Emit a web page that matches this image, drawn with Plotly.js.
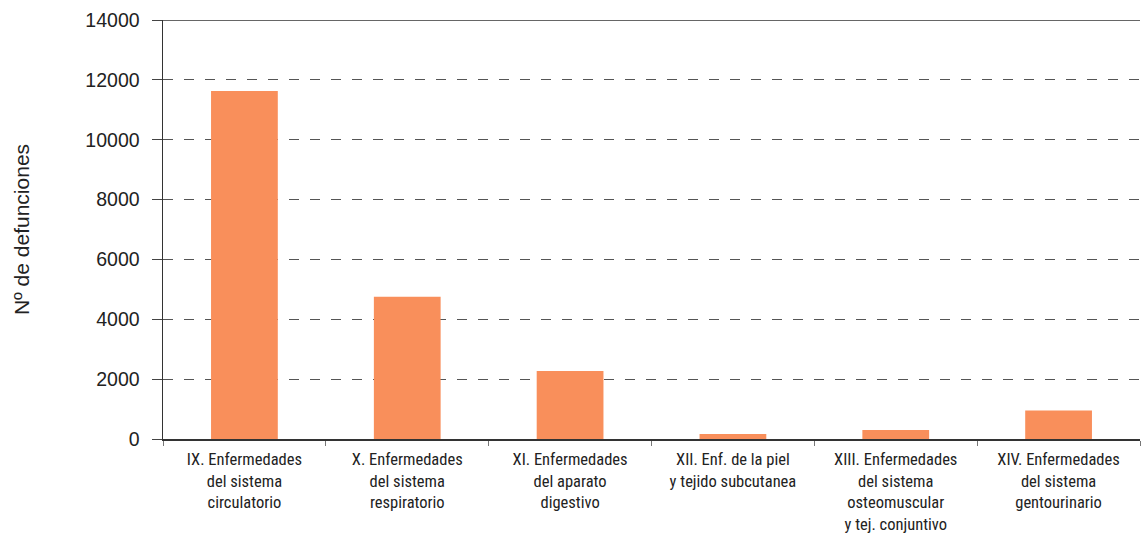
<!DOCTYPE html>
<html>
<head>
<meta charset="utf-8">
<script src="https://cdn.plot.ly/plotly-3.0.1.min.js"></script>
<style>html,body{margin:0;padding:0;background:#fff;}#chart{width:1145px;height:538px;}</style>
</head>
<body>
<div id="chart"></div>
<script>
const categories = [
  "IX. Enfermedades<br>del sistema<br>circulatorio",
  "X. Enfermedades<br>del sistema<br>respiratorio",
  "XI. Enfermedades<br>del aparato<br>digestivo",
  "XII. Enf. de la piel<br>y tejido subcutanea",
  "XIII. Enfermedades<br>del sistema<br>osteomuscular<br>y tej. conjuntivo",
  "XIV. Enfermedades<br>del sistema<br>gentourinario"
];
const defunciones = [11630, 4750, 2270, 170, 300, 950];
const yTitle = "Nº de defunciones";

const trace = {
  type: "bar",
  x: categories,
  y: defunciones,
  width: 0.41,
  marker: {color: "#F98F5B", line: {width: 0}},
  hoverinfo: "x+y"
};

const layout = {
  width: 1145, height: 538,
  margin: {l: 163, r: 5, t: 20, b: 99},
  paper_bgcolor: "#fff", plot_bgcolor: "#fff",
  showlegend: false,
  font: {family: "Liberation Sans, Arial, sans-serif", color: "#222"},
  xaxis: {
    type: "category",
    range: [-0.5, 5.5],
    showline: true, linecolor: "#333", linewidth: 1.5,
    ticks: "outside", tickson: "boundaries", ticklen: 5, tickcolor: "#777",
    ticklabelstandoff: 5,
    showgrid: false,
    tickfont: {family: "Liberation Sans Narrow, Arial Narrow, Roboto Condensed, Roboto, sans-serif", size: 16.5, color: "#222"},
    fixedrange: true
  },
  yaxis: {
    range: [0, 14000], dtick: 2000, tick0: 0, tickformat: "d",
    showline: true, linecolor: "#333", linewidth: 1.5,
    ticks: "outside", ticklen: 10, tickcolor: "#444",
    ticklabelstandoff: 8,
    showgrid: true, gridcolor: "#555", gridwidth: 1.2, griddash: "10px,11px",
    zeroline: false,
    tickfont: {size: 19.5, color: "#222"},
    title: {text: yTitle, font: {size: 21, color: "#222"}, standoff: 50},
    fixedrange: true
  },
  shapes: [{
    type: "line", xref: "paper", yref: "y", x0: 0, x1: 1, y0: 14000, y1: 14000,
    line: {color: "#333", width: 1.5}
  }]
};

Plotly.newPlot("chart", [trace], layout, {displayModeBar: false, staticPlot: true});
</script>
</body>
</html>
